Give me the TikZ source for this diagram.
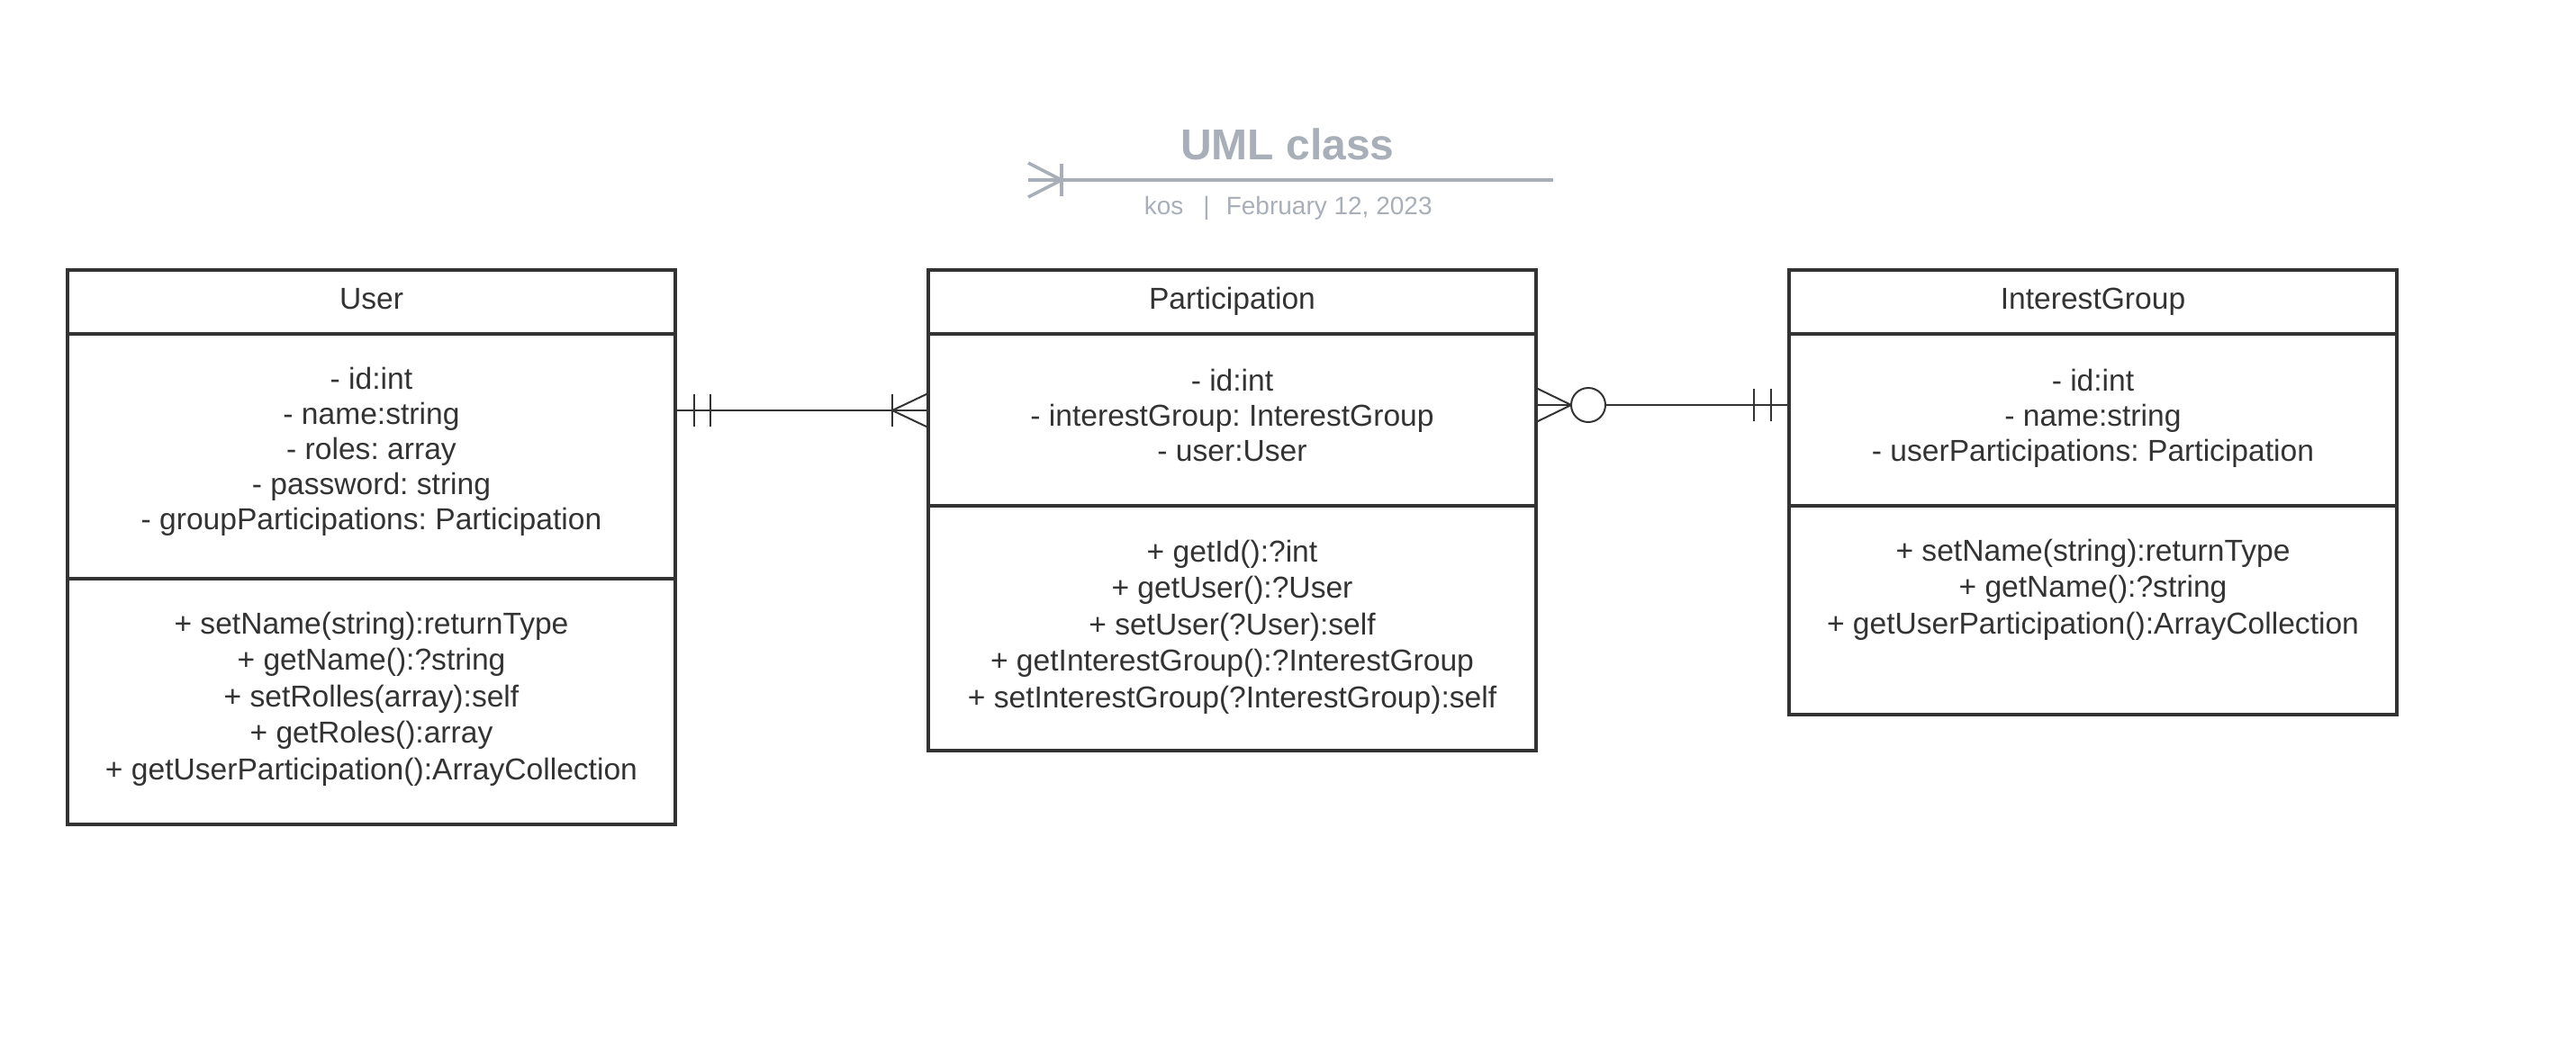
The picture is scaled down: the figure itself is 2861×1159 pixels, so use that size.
\documentclass[tikz,border=0pt]{standalone}
\usepackage{fontspec}
\setmainfont{Liberation Sans}
\frenchspacing
\definecolor{ink}{HTML}{333333}
\definecolor{faded}{HTML}{A9AFB8}

\tikzset{
  classbox/.style={draw=ink, line width=1pt, inner sep=0pt, outer sep=0pt, minimum width=168.75pt, anchor=north west},
  divider/.style={ink, line width=1pt},
  relation/.style={ink, line width=0.5pt},
  members/.style={anchor=base, inner sep=0pt, align=center, text=ink, font=\fontsize{8.4}{9.75}\selectfont},
  methods/.style={members, font=\fontsize{8.4}{10.125}\selectfont},
}

\begin{document}
\begin{tikzpicture}[x=0.25pt, y=-0.25pt]
\useasboundingbox (0,0) rectangle (2861,1159);

% title block
\node [anchor=base, inner sep=0pt, text=faded, font=\fontsize{12}{14}\selectfont\bfseries] (title) at (1430,177) {UML class};
\coordinate (rule-l) at (1142,200);
\coordinate (rule-r) at (1725,200);
\draw [faded, line width=0.9pt] (rule-l) -- (rule-r);
\draw [faded, line width=0.9pt] (rule-l) ++(0,-19) -- ++(37,19) -- ++(-37,19);
\draw [faded, line width=0.9pt] (rule-l) ++(37,-18) -- ++(0,36);
\node [anchor=base west, inner sep=0pt, text=faded, font=\fontsize{7}{8}\selectfont] (author) at (1270,238) {kos};
\node [anchor=base, inner sep=0pt, text=faded, font=\fontsize{7}{8}\selectfont] (bar) at (1340,238) {|};
\node [anchor=base west, inner sep=0pt, text=faded, font=\fontsize{7}{8}\selectfont] (date) at (1361,238) {February 12, 2023};

% classes (members are placed by the baseline of their last line)
\node [classbox, minimum height=154pt] (user) at (75,300) {};
\node [classbox, minimum height=133.5pt] (part) at (1031,300) {};
\node [classbox, minimum height=123.5pt] (group) at (1987,300) {};

\draw [divider] (user.west |- 0,371) -- (user.east |- 0,371);
\draw [divider] (user.west |- 0,643) -- (user.east |- 0,643);
\draw [divider] (part.west |- 0,371) -- (part.east |- 0,371);
\draw [divider] (part.west |- 0,562) -- (part.east |- 0,562);
\draw [divider] (group.west |- 0,371) -- (group.east |- 0,371);
\draw [divider] (group.west |- 0,562) -- (group.east |- 0,562);

\node [members] (user-name) at (412.5,343) {User};
\node [members] (user-attr) at (412.5,588) {- id:int\\- name:string\\- roles: array\\- password: string\\- groupParticipations: Participation};
\node [methods] (user-meth) at (412.5,866) {+ setName(string):returnType\\+ getName():?string\\+ setRolles(array):self\\+ getRoles():array\\+ getUserParticipation():ArrayCollection};

\node [members] (part-name) at (1368.5,343) {Participation};
\node [members] (part-attr) at (1368.5,512) {- id:int\\- interestGroup: InterestGroup\\- user:User};
\node [methods] (part-meth) at (1368.5,786) {+ getId():?int\\+ getUser():?User\\+ setUser(?User):self\\+ getInterestGroup():?InterestGroup\\+ setInterestGroup(?InterestGroup):self};

\node [members] (group-name) at (2324.5,343) {InterestGroup};
\node [members] (group-attr) at (2324.5,512) {- id:int\\- name:string\\- userParticipations: Participation};
\node [methods] (group-meth) at (2324.5,704) {+ setName(string):returnType\\+ getName():?string\\+ getUserParticipation():ArrayCollection};

% user -- participation
\draw [relation] (user.east |- 0,456) -- (part.west |- 0,456);
\draw [relation] (user.east |- 0,456) ++(21,-18) -- ++(0,36) ++(18,-36) -- ++(0,36);
\draw [relation] (part.west |- 0,456) ++(0,-19) -- ++(-40,19) -- ++(40,19);
\draw [relation] (part.west |- 0,456) ++(-40,-18) -- ++(0,36);

% participation -- interest group
\draw [relation] (part.east |- 0,450) -- (group.west |- 0,450);
\draw [relation] (part.east |- 0,450) ++(0,-19) -- ++(39,19) -- ++(-39,19);
\draw [relation, fill=white] (part.east |- 0,450) ++(58,0) circle [radius=19];
\draw [relation] (group.west |- 0,450) ++(-39,-18) -- ++(0,36) ++(19,-36) -- ++(0,36);
\end{tikzpicture}
\end{document}
